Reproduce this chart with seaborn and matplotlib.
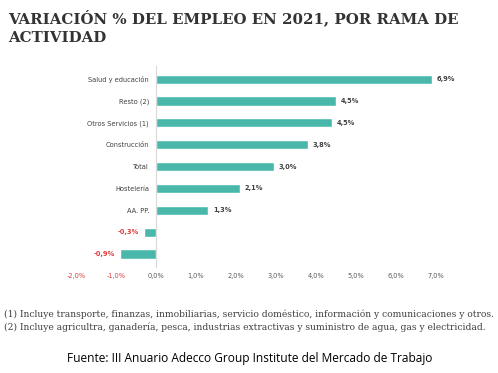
import seaborn as sns
import matplotlib.pyplot as plt
import pandas as pd

# Datos
categorias = ['Salud y educación', 'Resto (2)', 'Otros Servicios (1)', 'Construcción',
              'Total', 'Hostelería', 'AA.PP.', 'sin_nombre_1', 'sin_nombre_2']
etiquetas = ['Salud y educación', 'Resto (2)', 'Otros Servicios (1)', 'Construcción',
             'Total', 'Hostelería', 'AA. PP.', '', '']
valores = [6.9, 4.5, 4.4, 3.8, 2.95, 2.1, 1.3, -0.3, -0.9]
textos = ['6,9%', '4,5%', '4,5%', '3,8%', '3,0%', '2,1%', '1,3%', '-0,3%', '-0,9%']
ticks = [-2, -1, 0, 1, 2, 3, 4, 5, 6, 7]
tick_labels = ['-2,0%', '-1,0%', '0,0%', '1,0%', '2,0%', '3,0%', '4,0%', '5,0%', '6,0%', '7,0%']

df = pd.DataFrame({'cat': categorias, 'val': valores})

sns.set_style('white')
fig = plt.figure(figsize=(4.98, 3.73), dpi=100)
ax = fig.add_axes([0.1406, 0.284, 0.747, 0.539])

sns.barplot(data=df, x='val', y='cat', order=categorias, color='#4AB7AB',
            width=0.42, saturation=1, ax=ax)

ax.set_xlim(-2.15, 7.15)
ax.set_ylim(8.6, -0.6)
ax.set_xlabel('')
ax.set_ylabel('')

for s in ['top', 'right', 'bottom']:
    ax.spines[s].set_visible(False)
ax.spines['left'].set_position(('data', 0))
ax.spines['left'].set_color('#D9D9D9')
ax.spines['left'].set_linewidth(0.8)

ax.set_yticks(range(len(categorias)))
ax.set_yticklabels(etiquetas, fontsize=4.8, color='#404040')
ax.tick_params(axis='y', length=0, pad=5)

ax.set_xticks(ticks)
ax.set_xticklabels(tick_labels, fontsize=4.8)
ax.tick_params(axis='x', length=0, pad=4)
for t, v in zip(ax.get_xticklabels(), ticks):
    t.set_color('#E03C3C' if v < 0 else '#595959')

for i, (v, txt) in enumerate(zip(valores, textos)):
    if v >= 0:
        ax.text(v + 0.12, i, txt, ha='left', va='center', fontsize=4.8,
                fontweight='bold', color='#404040')
    else:
        ax.text(v - 0.12, i, txt, ha='right', va='center', fontsize=4.8,
                fontweight='bold', color='#E03C3C')

fig.text(0.016, 0.975, 'VARIACIÓN % DEL EMPLEO EN 2021, POR RAMA DE\nACTIVIDAD',
         ha='left', va='top', fontsize=10.8, fontweight='bold', color='#333333',
         family='DejaVu Serif', linespacing=1.4)

fig.text(0.008, 0.139,
         '(1) Incluye transporte, finanzas, inmobiliarias, servicio doméstico, información y comunicaciones y otros.\n'
         '(2) Incluye agricultra, ganadería, pesca, industrias extractivas y suministro de agua, gas y electricidad.',
         ha='left', va='center', fontsize=6.55, color='#404040', family='DejaVu Serif',
         linespacing=1.45)

fig.text(0.502, 0.04, 'Fuente: III Anuario Adecco Group Institute del Mercado de Trabajo',
         ha='center', va='center', fontsize=8.6, color='#000000', family='Open Sans')

fig.savefig('out.png', dpi=100)
